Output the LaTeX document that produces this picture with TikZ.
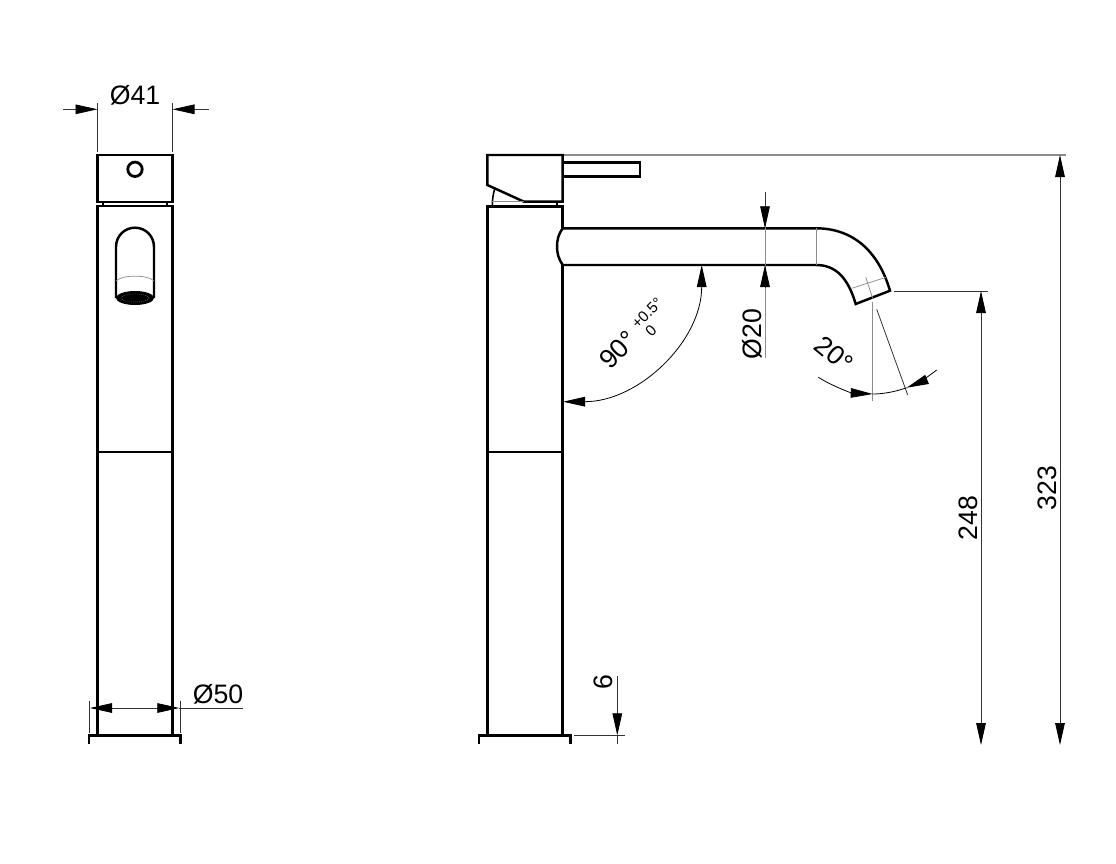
\documentclass[tikz,border=0pt]{standalone}
\usepackage{fontspec}
\setmainfont{Liberation Sans}
\usetikzlibrary{arrows.meta}
\tikzset{
  x=0.75pt,y=-0.75pt,
  thickline/.style={line width=1.85pt,black,line join=miter},
  midline/.style={line width=1.2pt,black},
  thinline/.style={line width=0.6pt,black!80},
  faint/.style={line width=0.55pt,black!45},
  dimtip/.style={-{Triangle[length=16.5pt,width=7.2pt,color=black,fill=black]}},
  tipboth/.style={{Triangle[length=16.5pt,width=7.2pt,color=black,fill=black]}-{Triangle[length=16.5pt,width=7.2pt,color=black,fill=black]}},
  dimtext/.style={font=\fontsize{20}{22}\selectfont,inner sep=0pt},
  smalltext/.style={font=\fontsize{11.5}{13}\selectfont,inner sep=0pt}
}
\begin{document}
\begin{tikzpicture}
\useasboundingbox (0,0) rectangle (1116,863);
% ---------- front view
\draw[thickline] (97.3,155) rectangle (172.7,202);
\draw[line width=2.1pt] (135,169.3) circle (7.2);
\draw[midline] (103,202) -- (103,206) (167,202) -- (167,206);
\draw[thickline] (97.3,735) -- (97.3,206) -- (172.7,206) -- (172.7,735);
\draw[thickline] (97.3,452) -- (172.7,452);
\draw[thickline] (89,744) -- (89,735.3) -- (180.7,735.3) -- (180.7,744);
\draw[thickline] (116,298) -- (116,247) .. controls (116,236) and (124.5,227.7) .. (135,227.7) .. controls (145.5,227.7) and (154,236) .. (154,247) -- (154,298);
\draw[faint] (116,281) .. controls (122,274.5) and (148,274.5) .. (154,281);
\fill[black] (135,298) ellipse (19 and 7);
\draw[black!55,line width=0.5pt,densely dotted] (135,298) ellipse (14 and 4);
% Ø41
\draw[thinline] (63,109.3) -- (75,109.3) (195,109.3) -- (209,109.3);
\draw[thinline] (97.5,103) -- (97.5,152) (172.5,103) -- (172.5,152);
\coordinate (a41l) at (75,109.3); \coordinate (a41lt) at (97.5,109.3);
\coordinate (a41r) at (195,109.3); \coordinate (a41rt) at (172.5,109.3);
\draw[thinline,dimtip] (a41l) -- (a41lt);
\draw[thinline,dimtip] (a41r) -- (a41rt);
\node[dimtext,anchor=base] (t41) at (135,105) {Ø41};
% Ø50
\draw[thinline] (89.7,701) -- (89.7,732.7) (180.7,701) -- (180.7,732.7);
\draw[thinline] (111,708) -- (158.7,708) (179.3,708) -- (242.7,708);
\coordinate (a50l) at (111,708); \coordinate (a50lt) at (90,708);
\coordinate (a50r) at (158.7,708); \coordinate (a50rt) at (179.3,708);
\draw[thinline,dimtip] (a50l) -- (a50lt);
\draw[thinline,dimtip] (a50r) -- (a50rt);
\node[dimtext,anchor=base] (t50) at (218,703) {Ø50};
% ---------- side view
\draw[line width=0.9pt,black!45] (562.7,155) -- (1066,155);
\draw[thickline] (562.7,155) -- (487.3,155) -- (487.3,185) -- (524,201.7) -- (562.7,201.7) -- cycle;
\draw[thickline] (562.7,162.3) -- (640,162.3) -- (640,176.7) -- (562.7,176.7);
\draw[midline] (495,188) .. controls (493,194) and (492.3,200) .. (492.3,206);
\draw[faint] (492.3,201) -- (524,201);
\draw[midline] (557,202) -- (557,206);
\draw[thickline] (487.3,735) -- (487.3,206.7) -- (562.7,206.7) -- (562.7,228.3);
\draw[thickline] (562.7,265) -- (562.7,735);
\draw[thickline] (487.3,452) -- (562.7,452);
\draw[thickline] (479,744) -- (479,735.3) -- (570.7,735.3) -- (570.7,744);
% spout
\draw[thickline] (562.7,228.3) .. controls (558.5,234) and (557,240) .. (557,246.5) .. controls (557,253) and (558.5,259) .. (562.7,265);
\draw[thickline] (562.7,228.3) -- (816,228.3) .. controls (852,228.3) and (878,250) .. (890,290.7) -- (855.7,304) .. controls (848,278) and (836,265) .. (816,265) -- (562.7,265);
\draw[faint] (816,228.3) -- (816,265);
\draw[faint] (851.7,288.3) -- (886,277.3);
\draw[faint] (865.7,277.3) -- (872.7,298.3);
% Ø20
\draw[thinline] (765,191.7) -- (765,206);
\draw[faint,line width=0.7pt] (765,206) -- (765,358);
\coordinate (a20t) at (765,206); \coordinate (a20tt) at (765,228.3);
\coordinate (a20b) at (765,286.7); \coordinate (a20bt) at (765,265);
\draw[thinline,dimtip] (a20t) -- (a20tt);
\draw[thinline,dimtip] (a20b) -- (a20bt);
\node[dimtext,rotate=90] (t20) at (752,334) {Ø20};
% 90 degrees
\coordinate (a90a) at (701.7,265); \coordinate (a90b) at (563,401.7);
\draw[thinline,tipboth,black] (a90a) .. controls (701.7,341) and (639,401.7) .. (a90b);
\node[dimtext,rotate=45] (t90) at (618,350) {90°};
\node[smalltext,rotate=45] (t05) at (647,313) {+0.5°};
\node[smalltext,rotate=45] (t0) at (651,331) {0};
% 20 degrees
\draw[thinline] (876.7,309.3) -- (907.7,395);
\draw[faint,line width=0.7pt] (872.7,301.7) -- (872.7,400.7);
\coordinate (a20s) at (818.3,377.3); \coordinate (a20m) at (872.7,394);
\coordinate (a20p) at (906.7,387.7); \coordinate (a20e) at (936.7,370);
\draw[thinline,dimtip,black] (a20s) .. controls (834,387) and (852,393) .. (a20m);
\draw[thinline,black] (a20m) .. controls (884,394) and (896,391.5) .. (a20p);
\draw[thinline,dimtip,black] (a20e) .. controls (927,377.5) and (917,383.5) .. (a20p);
\node[dimtext,rotate=-40] (td) at (834,354) {20°};
% 248
\draw[thinline] (894,291) -- (988.3,291);
\coordinate (a248t) at (981,291); \coordinate (a248b) at (981,745);
\draw[thinline,tipboth] (a248t) -- (a248b);
\node[dimtext,rotate=90] (t248) at (968,518) {248};
% 323
\coordinate (a323t) at (1060,155); \coordinate (a323b) at (1060,745);
\draw[thinline,tipboth] (a323t) -- (a323b);
\node[dimtext,rotate=90] (t323) at (1047,488) {323};
% 6
\draw[thinline] (574,735.3) -- (625,735.3);
\draw[thinline] (617.3,735.3) -- (617.3,744);
\coordinate (a6s) at (617.3,676); \coordinate (a6t) at (617.3,735.3);
\draw[thinline,dimtip] (a6s) -- (a6t);
\node[dimtext,rotate=90] (t6) at (603,682) {6};
\end{tikzpicture}
\end{document}
